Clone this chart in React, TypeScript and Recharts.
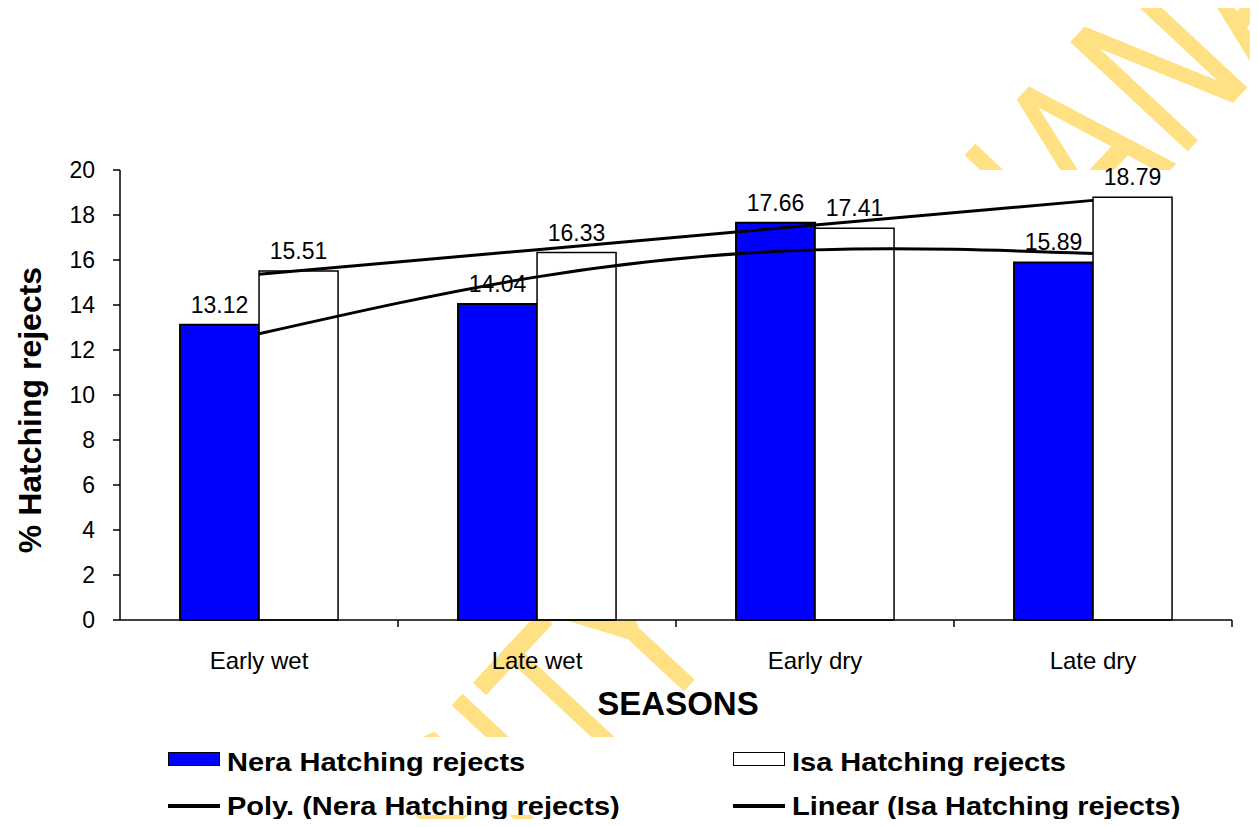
import React from 'react';
import { ComposedChart, Bar, Line, XAxis, YAxis, CartesianGrid, LabelList, Label } from 'recharts';

const seasons = ['Early wet', 'Late wet', 'Early dry', 'Late dry'];
const neraRejects = [13.12, 14.04, 17.66, 15.89];
const isaRejects = [15.51, 16.33, 17.41, 18.79];
// trend line values at each season
const neraPolyTrend = [12.72, 15.25, 16.45, 16.29];
const isaLinearTrend = [15.37, 16.46, 17.56, 18.65];
const yTicks = [0, 2, 4, 6, 8, 10, 12, 14, 16, 18, 20];

const data = seasons.map((season, i) => ({
    season,
    nera: neraRejects[i],
    isa: isaRejects[i],
    poly: neraPolyTrend[i],
    linear: isaLinearTrend[i],
}));

const W = 1258;
const H = 827;
const BAND = (1232 - 120) / seasons.length;
const FONT = '"Liberation Sans", Arial, sans-serif';

const SeasonTick = (props: any) => {
    const { x, y, payload } = props;
    const edge = x + BAND / 2;
    return (
        <g>
            <line x1={edge} x2={edge} y1={y} y2={y + 7} stroke="#000" strokeWidth={1.5} />
            <text x={x} y={y + 49} textAnchor="middle" fontFamily={FONT} fontSize={24} fill="#000">
                {payload.value}
            </text>
        </g>
    );
};

const YTitle = (props: any) => {
    const { viewBox } = props;
    const cx = viewBox.x - 30;
    const cy = viewBox.y + viewBox.height / 2 + 15;
    return (
        <text x={cx} y={cy} transform={`rotate(-90, ${cx}, ${cy})`} textAnchor="middle" dominantBaseline="central"
            fontFamily={FONT} fontWeight="bold" fontSize={32} fill="#000">
            % Hatching  rejects
        </text>
    );
};

const XTitle = (props: any) => {
    const { viewBox } = props;
    return (
        <text x={viewBox.x + viewBox.width / 2 + 2} y={viewBox.y + 83} textAnchor="middle" dominantBaseline="central"
            fontFamily={FONT} fontWeight="bold" fontSize={33} fill="#000">
            SEASONS
        </text>
    );
};

const legendText: React.CSSProperties = {
    position: 'absolute',
    fontFamily: FONT,
    fontWeight: 'bold',
    fontSize: 25,
    lineHeight: '30px',
    color: '#000',
    whiteSpace: 'nowrap',
    transform: 'scaleX(1.16)',
    transformOrigin: 'left center',
};

export default function App() {
    return (
        <div style={{ position: 'relative', width: W, height: H, margin: -8, background: '#fff', overflow: 'hidden' }}>
            {/* watermark behind the chart */}
            <svg width={W} height={H} style={{ position: 'absolute', left: 0, top: 0 }}>
                <text transform="translate(81,1338) rotate(-47) scale(0.72,1)" fontFamily='"DejaVu Sans"'
                    fontSize={220} fill="#FFE082">
                    UNIVERSITY OF GHANA
                </text>
            </svg>

            <div style={{ position: 'absolute', left: 0, top: 0 }}>
                <ComposedChart width={W} height={H} data={data}
                    margin={{ top: 170, right: 26, bottom: 97, left: 60 }}
                    barCategoryGap="21.6%" barGap={0}>
                    <CartesianGrid horizontal={false} vertical={false} fill="#fff" />
                    <XAxis dataKey="season" height={110} tickSize={0} tickMargin={0} tick={<SeasonTick />}
                        axisLine={{ stroke: '#000', strokeWidth: 1.5 }} interval={0}>
                        <Label content={<XTitle />} />
                    </XAxis>
                    <YAxis width={60} domain={[0, 20]} ticks={yTicks} interval={0} tickSize={7} tickMargin={18}
                        axisLine={{ stroke: '#000', strokeWidth: 1.5 }} tickLine={{ stroke: '#000', strokeWidth: 1.5 }}
                        tick={{ fill: '#000', fontSize: 23, fontFamily: FONT }}>
                        <Label content={<YTitle />} />
                    </YAxis>
                    <Bar dataKey="nera" fill="#0000FF" stroke="#000" strokeWidth={2} isAnimationActive={false}>
                        <LabelList dataKey="nera" position="top" offset={12} fill="#000" fontSize={23} fontFamily={FONT} />
                    </Bar>
                    <Bar dataKey="isa" fill="#fff" stroke="#000" strokeWidth={1.5} isAnimationActive={false}>
                        <LabelList dataKey="isa" position="top" offset={12} fill="#000" fontSize={23} fontFamily={FONT} />
                    </Bar>
                    <Line dataKey="poly" type="natural" stroke="#000" strokeWidth={3} dot={false} isAnimationActive={false} />
                    <Line dataKey="linear" type="linear" stroke="#000" strokeWidth={3} dot={false} isAnimationActive={false} />
                </ComposedChart>
            </div>

            {/* legend */}
            <div style={{ position: 'absolute', left: 160, top: 737, width: 1060, height: 78, background: '#fff' }}>
                <div style={{ position: 'absolute', left: 8, top: 15, width: 50, height: 12, background: '#0000FF', border: '1.5px solid #000' }} />
                <div style={{ ...legendText, left: 67, top: 10 }}>Nera Hatching rejects</div>
                <div style={{ position: 'absolute', left: 573, top: 15, width: 50, height: 12, background: '#fff', border: '1.5px solid #000' }} />
                <div style={{ ...legendText, left: 632, top: 10 }}>Isa Hatching rejects</div>
                <div style={{ position: 'absolute', left: 8, top: 67, width: 52, height: 4, background: '#000' }} />
                <div style={{ ...legendText, left: 67, top: 54 }}>Poly. (Nera Hatching rejects)</div>
                <div style={{ position: 'absolute', left: 573, top: 67, width: 52, height: 4, background: '#000' }} />
                <div style={{ ...legendText, left: 632, top: 54 }}>Linear (Isa Hatching rejects)</div>
            </div>
        </div>
    );
}
